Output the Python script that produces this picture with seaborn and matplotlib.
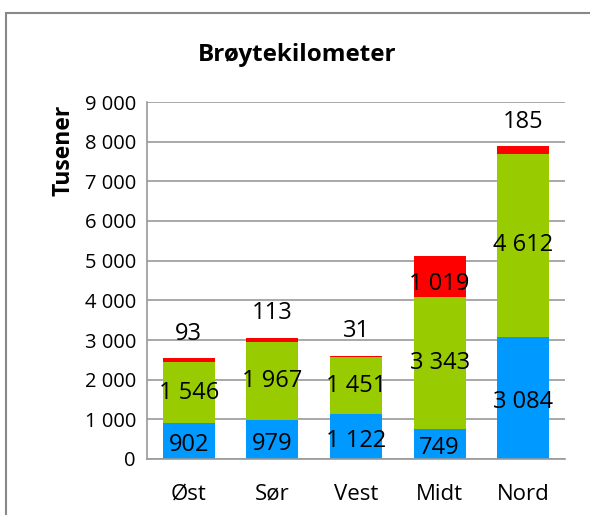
import matplotlib
matplotlib.use("Agg")
import matplotlib.pyplot as plt
import seaborn as sns
import pandas as pd
from matplotlib.patches import Rectangle

# Data
regions = ['Øst', 'Sør', 'Vest', 'Midt', 'Nord']
blue_vals = [902, 979, 1122, 749, 3084]
green_vals = [1546, 1967, 1451, 3343, 4612]
red_vals = [93, 113, 31, 1019, 185]
yticks = [0, 1000, 2000, 3000, 4000, 5000, 6000, 7000, 8000, 9000]

def fmt(v):
    return f"{v:,}".replace(",", " ")

df = pd.DataFrame({'region': regions, 'blue': blue_vals, 'green': green_vals, 'red': red_vals})
df['c1'] = df['blue']
df['c2'] = df['blue'] + df['green']
df['c3'] = df['c2'] + df['red']

sns.set_style("white")
plt.rcParams['font.family'] = ['Open Sans', 'DejaVu Sans']
plt.rcParams['text.color'] = 'black'
plt.rcParams['xtick.color'] = 'black'
plt.rcParams['ytick.color'] = 'black'
plt.rcParams['axes.labelcolor'] = 'black'

fig = plt.figure(figsize=(5.9, 5.15), dpi=100)
ax = fig.add_axes([147 / 590, 1 - 459 / 515, (565 - 147) / 590, (459 - 102) / 515])

ax.yaxis.grid(True, color='#999999', linewidth=1.2)
ax.set_axisbelow(True)

sns.barplot(data=df, x='region', y='c3', color='#FF0000', width=0.62, saturation=1, ax=ax, linewidth=0)
sns.barplot(data=df, x='region', y='c2', color='#99CC00', width=0.62, saturation=1, ax=ax, linewidth=0)
sns.barplot(data=df, x='region', y='c1', color='#0099FF', width=0.62, saturation=1, ax=ax, linewidth=0)

fs = 17
for i, row in df.iterrows():
    ax.text(i, row['c1'] / 2 - 100, fmt(row['blue']), ha='center', va='center', fontsize=fs)
    ax.text(i, row['c1'] + row['green'] / 2, fmt(row['green']), ha='center', va='center', fontsize=fs)
    if row['red'] > 500:
        ax.text(i, row['c2'] + row['red'] / 2 - 200, fmt(row['red']), ha='center', va='center', fontsize=fs)
    else:
        ax.text(i, row['c3'] + 620, fmt(row['red']), ha='center', va='center', fontsize=fs)

ax.set_ylim(0, 9000)
ax.set_xlim(-0.5, 4.5)
ax.set_yticks(yticks)
ax.set_yticklabels([fmt(v) for v in yticks], fontsize=14.5)
ax.tick_params(axis='x', labelsize=16, length=0, pad=18)
ax.tick_params(axis='y', length=0, pad=8)
ax.set_xlabel('')
ax.set_ylabel('Tusener', fontsize=16.5, fontweight='bold')
ax.yaxis.set_label_coords(-0.17, 0.865)

for s in ['top', 'right']:
    ax.spines[s].set_visible(False)
for s in ['left', 'bottom']:
    ax.spines[s].set_color('#999999')
    ax.spines[s].set_linewidth(1.2)

fig.text(297 / 590, 1 - 55 / 515, 'Brøytekilometer', ha='center', va='center', fontsize=17.5, fontweight='bold')

# Outer frame
fig.patches.append(Rectangle((6 / 590, -0.1), 1.2, 1 - 13 / 515 + 0.1, transform=fig.transFigure,
                             fill=False, edgecolor='#888888', linewidth=1.5))

fig.savefig('out.png', dpi=100)
